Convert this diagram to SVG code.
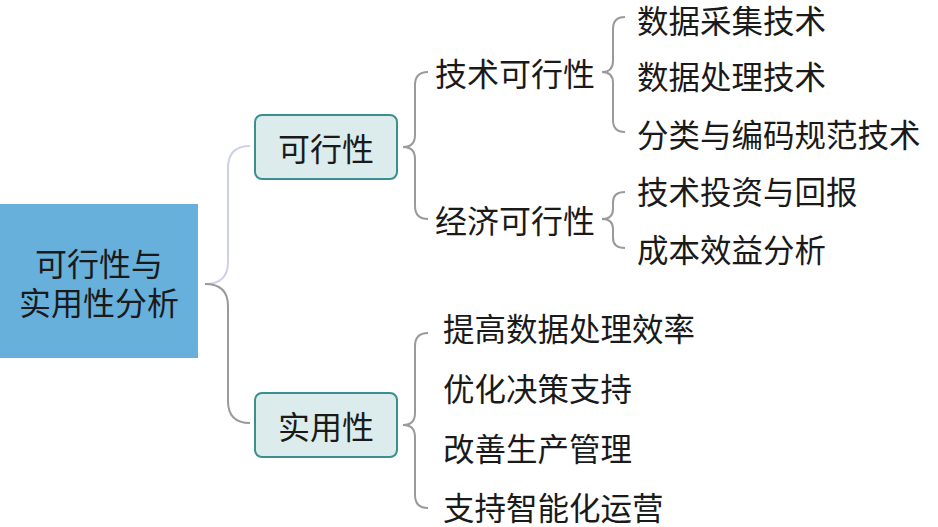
<svg xmlns="http://www.w3.org/2000/svg" width="938" height="527" viewBox="0 0 938 527">
<style>
text{font-family:"Noto Sans CJK SC","Noto Sans",sans-serif;fill:#1a1a1a;dominant-baseline:central}
.t{font-size:31.5px}
.m{font-size:32px}
.c{stroke:#9a9a9a;stroke-width:2;fill:none}
.cl{stroke:#cfd0ec;stroke-width:2;fill:none}
.box{fill:#dcecec;stroke:#3b8f91;stroke-width:2}
</style>
<rect width="938" height="527" fill="#ffffff"/>
<g id="connectors">
<path class="cl" d="M205,284 Q228,284 228,262 L228,168 Q228,146 250,146"/>
<path class="c" d="M205,284 Q228,284 228,306 L228,401 Q228,423 250,423"/>
<path class="c" d="M428,72 Q415,72 415,85 L415,135 Q415,147 403,147 Q415,147 415,159 L415,206 Q415,219 428,219"/>
<path class="c" d="M625,17 Q613,17 613,29 L613,61 Q613,72 602,72 Q613,72 613,83 L613,120 Q613,132 625,132"/>
<path class="c" d="M625,192 Q613,192 613,202 L613,209 Q613,219 602,219 Q613,219 613,229 L613,238 Q613,248 625,248"/>
<path class="c" d="M428,333 Q415,333 415,346 L415,413 Q415,425 403,425 Q415,425 415,437 L415,495 Q415,508 428,508"/>
</g>
<g id="root">
<rect x="0" y="204" width="198" height="154" fill="#67b0dc"/>
<text class="m" x="99" y="262" text-anchor="middle">可行性与</text>
<text class="m" x="99" y="301" text-anchor="middle">实用性分析</text>
</g>
<g id="feasibility">
<rect class="box" x="255" y="115" width="142" height="64" rx="7"/>
<text class="m" x="326" y="147" text-anchor="middle">可行性</text>
</g>
<g id="practicality">
<rect class="box" x="255" y="393" width="142" height="64" rx="7"/>
<text class="m" x="326" y="425" text-anchor="middle">实用性</text>
</g>
<g id="tech-feasibility"><text class="m" x="435" y="72">技术可行性</text></g>
<g id="econ-feasibility"><text class="m" x="435" y="219">经济可行性</text></g>
<g id="leaf1"><text class="t" x="637" y="19">数据采集技术</text></g>
<g id="leaf2"><text class="t" x="637" y="75">数据处理技术</text></g>
<g id="leaf3"><text class="t" x="637" y="133">分类与编码规范技术</text></g>
<g id="leaf4"><text class="t" x="637" y="190">技术投资与回报</text></g>
<g id="leaf5"><text class="t" x="637" y="248">成本效益分析</text></g>
<g id="leaf6"><text class="t" x="443" y="327">提高数据处理效率</text></g>
<g id="leaf7"><text class="t" x="443" y="387">优化决策支持</text></g>
<g id="leaf8"><text class="t" x="443" y="447">改善生产管理</text></g>
<g id="leaf9"><text class="t" x="443" y="506">支持智能化运营</text></g>
</svg>
